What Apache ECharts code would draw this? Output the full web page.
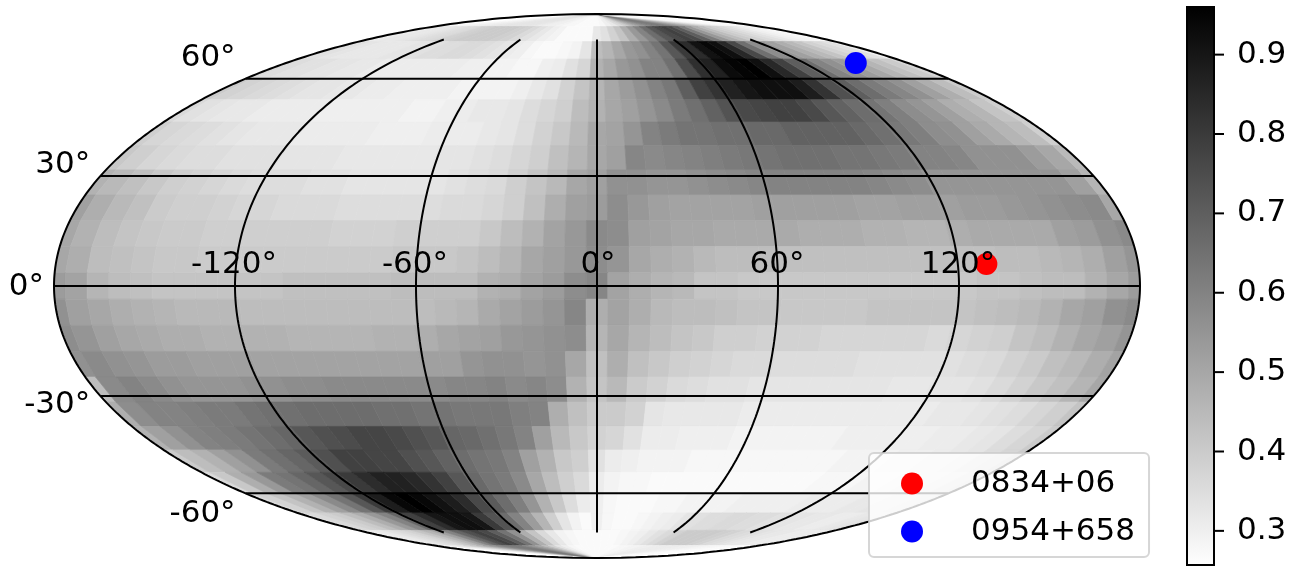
<!DOCTYPE html>
<html>
<head>
<meta charset="utf-8">
<style>
    html, body { margin: 0; padding: 0; background: #fff; }
    #chart { width: 1302px; height: 566px; }
</style>
<script src="https://cdn.jsdelivr.net/npm/echarts@6/dist/echarts.min.js"></script>
</head>
<body>
<div id="chart"></div>
<script>
// map values in hundredths, each row runs lon -180 .. 180 in steps of 7.2
const lat85 = [27,27,28,28,29,30,30,31,32,32,33,33,33,33,33,32,31,30,30,29,28,28,27,27,27, 27,28,30,32,36,40,46,52,56,60,62,63,62,58,54,50,46,42,38,35,32,30,28,28,27,27];
const lat78 = [31,31,32,32,33,34,35,36,38,39,40,40,40,40,39,38,36,34,32,30,29,27,27,27,27, 32,34,38,42,48,54,60,66,72,76,78,76,70,62,54,48,44,40,38,36,34,32,30,29,28,27];
const lat71 = [35,34,33,32,32,32,32,33,33,34,35,35,36,36,35,34,33,31,30,28,27,27,28,29,33, 44,46,50,54,56,60,64,72,80,84,91,94,92,85,76,65,57,54,52,48,45,42,38,36,34,30];
const lat64 = [36,35,34,34,33,33,32,32,31,31,31,31,31,31,31,30,30,29,29,28,28,30,31,34,37, 47,50,54,56,60,60,65,75,83,87,93,95,96,92,85,78,70,66,60,56,53,50,46,43,40,37];
const lat56 = [40,38,37,36,35,34,33,33,32,32,31,31,30,30,30,30,29,29,29,29,30,32,34,38,42, 46,50,53,56,60,63,70,78,82,87,90,92,92,92,88,82,74,70,66,62,59,56,52,48,44,40];
const lat49 = [36,34,33,32,32,31,31,31,31,30,30,30,30,30,29,29,30,31,32,32,33,35,37,39,44, 47,50,52,55,58,62,65,69,73,76,77,78,78,76,72,69,66,64,61,57,55,52,48,46,42,39];
const lat42 = [39,37,36,35,34,33,32,32,32,31,31,31,31,30,30,30,31,31,31,32,33,35,38,41,45, 50,51,55,60,62,64,64,65,65,67,67,69,69,69,69,67,65,63,61,57,56,52,49,46,44,39];
const lat35 = [41,39,37,36,35,35,34,34,34,33,33,33,32,32,32,32,32,33,33,34,35,37,39,43,46, 50,52,59,58,59,60,61,62,63,64,65,65,65,64,64,63,62,60,60,59,56,56,56,53,50,45];
const lat28 = [47,45,43,41,39,38,37,36,35,35,35,34,34,33,33,33,33,33,34,35,36,39,42,45,50, 52,56,56,55,55,56,57,58,59,60,60,60,60,60,59,58,57,55,55,55,55,55,55,55,52,46];
const lat21 = [52,48,45,43,40,39,39,38,37,37,36,36,36,35,35,35,35,35,36,36,37,39,43,48,52, 53,57,54,52,51,51,51,51,52,52,52,52,52,51,51,52,52,52,53,53,54,55,56,57,58,50];
const lat14 = [50,47,44,42,41,40,40,39,39,39,39,39,39,38,38,38,39,39,39,39,41,44,47,51,54, 58,57,52,51,50,50,49,49,49,49,48,48,48,47,47,46,46,48,49,49,49,49,52,53,56,58];
const lat7 = [50,48,44,43,42,41,41,40,40,40,40,40,40,40,40,40,41,41,41,42,44,46,50,52,54, 57,55,50,48,47,45,44,44,44,43,43,43,43,43,43,43,43,43,43,44,44,45,46,48,52,55];
const lat0 = [53,51,46,44,43,42,42,42,42,42,42,43,43,43,43,43,44,44,44,44,47,48,51,53,57, 59,51,48,46,45,42,42,41,41,41,41,41,41,41,41,41,41,41,42,42,43,44,44,47,50,53];
const latS7 = [56,52,50,48,47,46,45,45,45,44,44,44,44,44,44,44,44,44,45,46,49,51,53,55,59, 48,51,48,45,44,44,43,42,42,41,41,41,41,42,42,42,42,42,43,44,45,47,50,52,56,58];
const latS14 = [57,55,52,50,49,48,48,47,47,47,47,46,46,46,46,47,47,48,50,51,52,54,55,56,57, 46,50,46,44,42,41,39,39,38,38,38,37,37,37,37,37,36,37,38,39,42,44,47,50,52,55];
const latS21 = [56,58,56,55,53,53,52,52,52,51,51,51,51,51,51,51,51,52,52,55,56,56,55,56,50, 43,48,43,41,39,38,37,36,36,35,35,35,35,34,34,34,34,34,35,36,38,40,43,45,48,51];
const latS28 = [44,58,60,58,56,55,55,55,56,56,57,57,58,58,58,58,58,58,59,59,60,58,59,57,47, 42,45,40,38,36,35,34,34,33,33,33,33,33,33,33,32,32,33,33,34,36,38,41,43,46,50];
const latS35 = [48,57,60,60,61,62,62,64,65,65,66,66,66,66,65,65,64,64,63,63,63,61,60,48,43, 40,40,38,33,32,32,32,32,31,31,31,31,31,31,31,31,31,31,32,32,33,34,35,37,39,42];
const latS42 = [47,52,56,60,61,62,64,66,68,72,74,75,77,77,76,74,72,68,67,65,63,60,52,45,41, 38,37,34,31,31,30,30,30,29,29,29,29,29,29,30,30,30,30,30,31,31,32,33,35,37,40];
const latS49 = [40,44,47,52,56,62,65,68,71,74,78,78,77,77,74,72,69,66,64,63,60,52,47,41,39, 34,31,30,29,29,29,28,28,28,28,28,28,28,28,28,29,29,29,30,30,31,32,33,35,37,40];
const latS56 = [36,41,48,54,62,64,68,72,76,80,84,87,87,85,82,78,72,67,64,62,58,50,44,39,36, 31,29,28,28,27,27,27,27,27,27,27,27,27,27,27,28,28,28,29,29,30,31,32,33,35,37];
const latS64 = [36,38,42,47,52,58,64,72,80,88,94,96,94,91,88,84,76,71,66,61,55,47,41,35,31, 30,28,27,27,27,28,28,29,29,29,29,30,30,30,30,30,31,31,31,31,32,32,33,33,34,35];
const latS71 = [34,36,38,40,44,48,54,60,68,78,84,90,92,92,90,80,73,66,60,53,46,39,33,29,27, 30,28,27,27,28,29,30,31,33,34,35,35,36,36,35,35,34,33,33,32,32,31,31,32,33,34];
const latS78 = [30,31,32,34,36,38,42,46,52,60,68,74,78,76,70,64,56,48,42,36,32,29,28,27,27, 27,27,27,28,29,30,32,34,36,38,40,40,40,40,39,38,36,35,34,33,32,32,31,31,31,31];
const latS85 = [28,28,30,32,34,38,42,46,52,56,60,62,63,62,58,54,50,44,38,33,30,28,27,27,27, 27,27,27,27,28,28,29,29,30,30,31,31,31,31,31,30,30,30,29,29,28,28,28,27,27,27];

const mapRows = [lat85, lat78, lat71, lat64, lat56, lat49, lat42, lat35, lat28, lat21, lat14, lat7, lat0,
    latS7, latS14, latS21, latS28, latS35, latS42, latS49, latS56, latS64, latS71, latS78, latS85];
const LON_STEP = 7.2;
const LAT_STEP = 7.06;

const lonTicks = [-120, -60, 0, 60, 120];
const latTicks = [-60, -30, 0, 30, 60];
const sources = ['0834+06', '0954+658'];
const sourceLon = [129.5, 149.8];
const sourceLat = [5.9, 65.6];
const colorbarTicks = [0.3, 0.4, 0.5, 0.6, 0.7, 0.8, 0.9];
const VMIN = 0.257;
const VMAX = 0.96;

const FONT = '"DejaVu Sans"';
const FONT_SIZE = 31;
const LON_CAP = 75;
// how far each latitude label sits from the map edge, vertically
const latLabelDy = {'-60': 21, '-30': 9, '0': 1, '30': -11, '60': -21};

// mollweide, lon/lat in degrees, returns plain x,y for the hidden cartesian axes
function mollweide(lon, lat) {
    const phi = lat * Math.PI / 180;
    let theta = phi;
    if (Math.abs(lat) >= 90) {
        theta = phi;
    } else {
        for (let i = 0; i < 50; i++) {
            theta -= (2 * theta + Math.sin(2 * theta) - Math.PI * Math.sin(phi)) / (2 + 2 * Math.cos(2 * theta));
        }
    }
    return [2 * Math.SQRT2 / Math.PI * (lon * Math.PI / 180) * Math.cos(theta), Math.SQRT2 * Math.sin(theta)];
}

function grayOf(v) {
    const t = Math.max(0, Math.min(1, (v - VMIN) / (VMAX - VMIN)));
    const g = Math.round(255 * (1 - t));
    return 'rgb(' + g + ',' + g + ',' + g + ')';
}

const cells = [];
mapRows.forEach((row, j) => {
    row.forEach((v, i) => {
        cells.push([-180 + i * LON_STEP, (12 - j) * LAT_STEP, v / 100]);
    });
});

function clampTo(v, limit) {
    return Math.max(-limit, Math.min(limit, v));
}

function renderCell(params, api) {
    const lon = api.value(0);
    const lat = api.value(1);
    const lon0 = clampTo(lon - LON_STEP / 2, 180);
    const lon1 = clampTo(lon + LON_STEP / 2, 180);
    // the outermost rows run on to the pole
    const lat0 = Math.abs(lat - LAT_STEP * 12) < 0.01 ? 90 : lat + LAT_STEP / 2;
    const lat1 = Math.abs(lat + LAT_STEP * 12) < 0.01 ? -90 : lat - LAT_STEP / 2;
    const pts = [[lon0, lat0], [lon1, lat0], [lon1, lat1], [lon0, lat1]].map(p => api.coord(mollweide(p[0], p[1])));
    const color = grayOf(api.value(2));
    return {
        type: 'polygon',
        shape: {points: pts},
        style: {fill: color, stroke: color, lineWidth: 0.7}
    };
}

function gridLine(points) {
    return {
        type: 'line',
        xAxisIndex: 0,
        yAxisIndex: 0,
        data: points,
        showSymbol: false,
        symbol: 'none',
        clip: false,
        silent: true,
        z: 3,
        lineStyle: {color: '#000', width: 2},
        tooltip: {show: false}
    };
}

const lineSeries = [];
latTicks.forEach(lat => {
    lineSeries.push(gridLine([mollweide(-180, lat), mollweide(180, lat)]));
});
lonTicks.forEach(lon => {
    const pts = [];
    for (let lat = -LON_CAP; lat <= LON_CAP; lat += 1) {
        pts.push(mollweide(lon, lat));
    }
    lineSeries.push(gridLine(pts));
});
const outline = [];
for (let lat = -90; lat <= 90; lat += 0.5) {
    outline.push(mollweide(180, lat));
}
for (let lat = 90; lat >= -90; lat -= 0.5) {
    outline.push(mollweide(-180, lat));
}
lineSeries.push(gridLine(outline));

const tickTexts = [];
lonTicks.forEach(lon => tickTexts.push([lon, 0, 'lon']));
latTicks.forEach(lat => tickTexts.push([-180, lat, 'lat']));

function renderTick(params, api) {
    const item = tickTexts[params.dataIndex];
    const p = api.coord(mollweide(item[0], item[1]));
    const isLon = item[2] === 'lon';
    return {
        type: 'text',
        z2: 10,
        style: {
            text: (isLon ? item[0] : item[1]) + '°',
            x: isLon ? p[0] + (item[0] === 0 ? 1 : -1) : p[0] - 10,
            y: isLon ? p[1] - 21 : p[1] + latLabelDy[item[1]],
            align: isLon ? 'center' : 'right',
            verticalAlign: 'middle',
            fill: '#000',
            font: FONT_SIZE + 'px ' + FONT
        }
    };
}

function renderColorbar(params, api) {
    const top = api.coord([0, VMAX]);
    const bottom = api.coord([1, VMIN]);
    return {
        type: 'rect',
        shape: {x: top[0], y: top[1], width: bottom[0] - top[0], height: bottom[1] - top[1]},
        style: {
            fill: new echarts.graphic.LinearGradient(0, 0, 0, 1, [
                {offset: 0, color: '#000'},
                {offset: 1, color: '#fff'}
            ]),
            stroke: '#000',
            lineWidth: 2
        }
    };
}

// axisTick stays hidden with customValues here, so the ticks go through the axis scale by hand
function renderColorbarTick(params, api) {
    const p = api.coord([1, api.value(0)]);
    return {
        type: 'line',
        shape: {x1: p[0], y1: p[1], x2: p[0] + 10, y2: p[1]},
        style: {stroke: '#000', lineWidth: 2}
    };
}

const chart = echarts.init(document.getElementById('chart'));
chart.setOption({
    animation: false,
    backgroundColor: '#fff',
    grid: [
        {left: 54, top: 14, width: 1086, height: 544},
        {left: 1187, top: 7, width: 27, height: 558}
    ],
    xAxis: [
        {type: 'value', gridIndex: 0, min: -2 * Math.SQRT2, max: 2 * Math.SQRT2, show: false},
        {type: 'value', gridIndex: 1, min: 0, max: 1, show: false}
    ],
    yAxis: [
        {type: 'value', gridIndex: 0, min: -Math.SQRT2, max: Math.SQRT2, show: false},
        {
            type: 'value',
            gridIndex: 1,
            position: 'right',
            min: VMIN,
            max: VMAX,
            splitLine: {show: false},
            axisLine: {show: false},
            axisTick: {show: false},
            axisLabel: {
                show: true,
                margin: 23,
                padding: [6, 0, 0, 0],
                color: '#000',
                fontFamily: FONT,
                fontSize: FONT_SIZE,
                customValues: colorbarTicks,
                formatter: v => v.toFixed(1)
            }
        }
    ],
    legend: {
        data: sources,
        left: 869,
        top: 453,
        height: 100,
        orient: 'vertical',
        icon: 'circle',
        itemWidth: 22,
        itemHeight: 22,
        itemGap: 17,
        padding: [15, 14, 10, 32],
        backgroundColor: 'rgba(255,255,255,0.8)',
        borderColor: 'rgba(204,204,204,0.8)',
        borderWidth: 2,
        borderRadius: 5,
        z: 20,
        textStyle: {color: '#000', fontFamily: FONT, fontSize: FONT_SIZE, lineHeight: 22, padding: [0, 0, 0, 43]}
    },
    series: [
        {
            type: 'custom',
            coordinateSystem: 'cartesian2d',
            xAxisIndex: 0,
            yAxisIndex: 0,
            data: cells,
            renderItem: renderCell,
            silent: true,
            progressive: 0,
            clip: false,
            z: 1
        },
        ...lineSeries,
        {
            name: sources[0],
            type: 'scatter',
            xAxisIndex: 0,
            yAxisIndex: 0,
            data: [mollweide(sourceLon[0], sourceLat[0])],
            symbol: 'circle',
            symbolSize: 22,
            itemStyle: {color: '#ff0000', opacity: 1},
            z: 5
        },
        {
            name: sources[1],
            type: 'scatter',
            xAxisIndex: 0,
            yAxisIndex: 0,
            data: [mollweide(sourceLon[1], sourceLat[1])],
            symbol: 'circle',
            symbolSize: 22,
            itemStyle: {color: '#0000ff', opacity: 1},
            z: 5
        },
        {
            type: 'custom',
            coordinateSystem: 'cartesian2d',
            xAxisIndex: 0,
            yAxisIndex: 0,
            data: tickTexts.map(t => [t[0], t[1]]),
            renderItem: renderTick,
            silent: true,
            clip: false,
            z: 6
        },
        {
            type: 'custom',
            coordinateSystem: 'cartesian2d',
            xAxisIndex: 1,
            yAxisIndex: 1,
            data: [[0, VMAX]],
            renderItem: renderColorbar,
            silent: true,
            clip: false,
            z: 2
        },
        {
            type: 'custom',
            coordinateSystem: 'cartesian2d',
            xAxisIndex: 1,
            yAxisIndex: 1,
            data: colorbarTicks.map(v => [v]),
            encode: {y: 0},
            renderItem: renderColorbarTick,
            silent: true,
            clip: false,
            z: 3
        }
    ]
});
</script>
</body>
</html>
